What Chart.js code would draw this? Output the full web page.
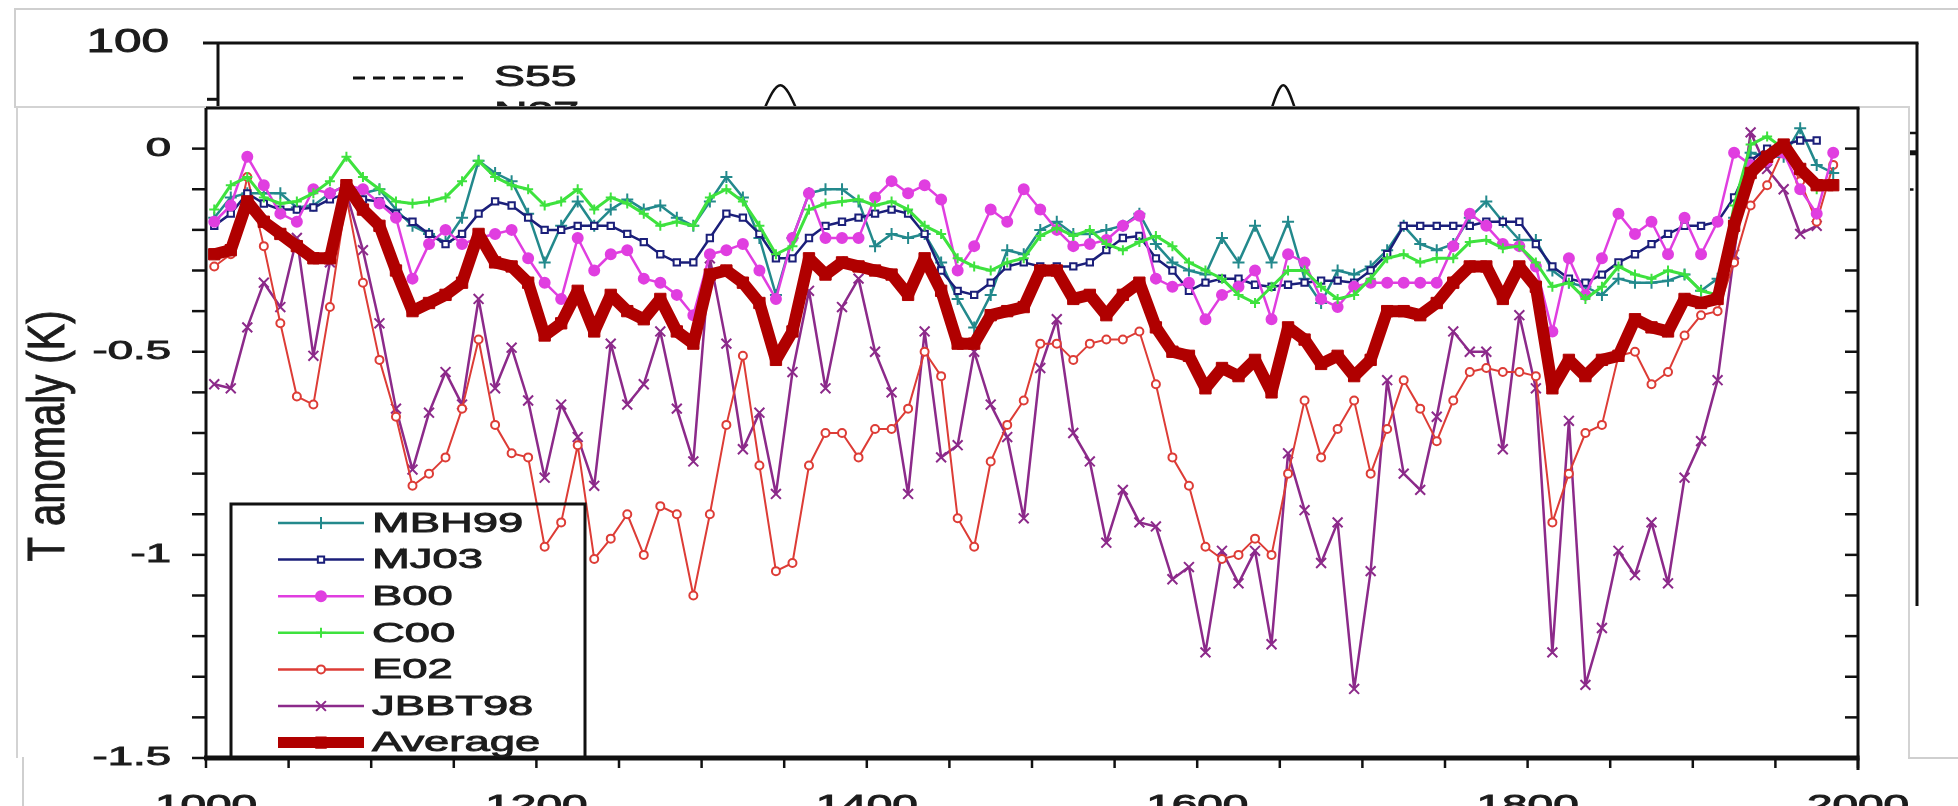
<!DOCTYPE html>
<html>
<head>
<meta charset="utf-8">
<script src="https://cdn.jsdelivr.net/npm/chart.js@4.4.0/dist/chart.umd.min.js"></script>
<style>
  html, body { margin: 0; padding: 0; background: #fff; overflow: hidden; }
  #stage { position: relative; width: 1958px; height: 806px; overflow: hidden; background: #fff; }
  canvas { position: absolute; left: 0; top: 0; }
  .rule { position: absolute; background: #cfcfcf; }
  #card { position: absolute; left: 16px; top: 106px; width: 1894px; height: 652px; background: #fff;
          border: 2px solid #d3d3d3; border-bottom: none; box-sizing: border-box; }
</style>
</head>
<body>
<div id="stage">
  <div class="rule" style="left:14px;top:8px;width:1944px;height:2px"></div>
  <div class="rule" style="left:14px;top:8px;width:2px;height:100px"></div>
  <canvas id="back" width="1958" height="806"></canvas>
  <div id="card"></div>
  <div class="rule" style="left:22px;top:757px;width:2px;height:49px"></div>
  <div class="rule" style="left:1908px;top:757px;width:50px;height:2px"></div>
  <canvas id="front" width="1958" height="806"></canvas>
</div>
<script>
// decade mid-points 1005 ... 1985
const years = Array.from({ length: 99 }, (_, i) => 1005 + 10 * i);

const mbh99 = [
  -0.17, -0.12, -0.11, -0.11, -0.11, -0.145, -0.14, -0.11, -0.09, -0.11, -0.10, -0.15, -0.19, -0.21, -0.23, -0.17, -0.03, -0.06, -0.08, -0.16, -0.28, -0.19, -0.13, -0.19, -0.15,
  -0.125, -0.15, -0.14, -0.17, -0.19, -0.13, -0.07, -0.12, -0.22, -0.36, -0.22, -0.11, -0.10, -0.10, -0.13, -0.24, -0.21, -0.22, -0.21, -0.28, -0.37, -0.44, -0.36, -0.25, -0.26,
  -0.20, -0.18, -0.21, -0.21, -0.20, -0.19, -0.16, -0.235, -0.28, -0.30, -0.31, -0.22, -0.28, -0.19, -0.28, -0.18, -0.32, -0.38, -0.30, -0.31, -0.29, -0.25, -0.19, -0.235, -0.25,
  -0.235, -0.17, -0.13, -0.18, -0.225, -0.225, -0.30, -0.33, -0.34, -0.36, -0.32, -0.33, -0.33, -0.325, -0.31, -0.35, -0.32, -0.17, -0.01, -0.02, -0.02, 0.05, -0.04, -0.06
];
const mj03 = [
  -0.19, -0.16, -0.11, -0.135, -0.15, -0.15, -0.145, -0.125, -0.11, -0.125, -0.13, -0.16, -0.18, -0.21, -0.235, -0.21, -0.16, -0.13, -0.14, -0.17, -0.20, -0.20, -0.19, -0.19, -0.19,
  -0.21, -0.23, -0.26, -0.28, -0.28, -0.22, -0.16, -0.17, -0.21, -0.27, -0.27, -0.22, -0.19, -0.18, -0.17, -0.16, -0.15, -0.16, -0.21, -0.30, -0.35, -0.36, -0.33, -0.29, -0.28,
  -0.29, -0.29, -0.29, -0.28, -0.25, -0.22, -0.215, -0.27, -0.30, -0.35, -0.33, -0.32, -0.32, -0.335, -0.34, -0.335, -0.33, -0.325, -0.325, -0.33, -0.30, -0.26, -0.19, -0.19, -0.19,
  -0.19, -0.19, -0.18, -0.18, -0.18, -0.235, -0.29, -0.32, -0.33, -0.31, -0.28, -0.26, -0.235, -0.21, -0.19, -0.19, -0.18, -0.12, -0.03, 0.00, 0.01, 0.02, 0.02, null
];
const b00 = [
  -0.18, -0.14, -0.02, -0.09, -0.16, -0.18, -0.10, -0.11, -0.09, -0.10, -0.135, -0.17, -0.32, -0.235, -0.20, -0.235, -0.22, -0.21, -0.20, -0.27, -0.33, -0.37, -0.22, -0.30, -0.26,
  -0.25, -0.32, -0.33, -0.36, -0.41, -0.26, -0.25, -0.235, -0.30, -0.37, -0.22, -0.11, -0.22, -0.22, -0.22, -0.12, -0.08, -0.11, -0.09, -0.125, -0.30, -0.24, -0.15, -0.18, -0.10,
  -0.15, -0.20, -0.24, -0.235, -0.225, -0.19, -0.165, -0.32, -0.34, -0.33, -0.42, -0.36, -0.34, -0.30, -0.42, -0.26, -0.28, -0.37, -0.39, -0.34, -0.33, -0.33, -0.33, -0.33, -0.33,
  -0.24, -0.16, -0.19, -0.235, -0.24, -0.29, -0.45, -0.27, -0.36, -0.27, -0.16, -0.21, -0.18, -0.26, -0.17, -0.26, -0.18, -0.01, -0.04, -0.03, -0.01, -0.10, -0.16, -0.01
];
const c00 = [
  -0.15, -0.09, -0.07, -0.12, -0.135, -0.13, -0.11, -0.08, -0.02, -0.07, -0.10, -0.13, -0.135, -0.13, -0.12, -0.08, -0.03, -0.07, -0.09, -0.10, -0.14, -0.13, -0.10, -0.15, -0.12,
  -0.135, -0.16, -0.19, -0.18, -0.19, -0.12, -0.10, -0.13, -0.19, -0.26, -0.24, -0.15, -0.135, -0.13, -0.125, -0.14, -0.13, -0.15, -0.19, -0.21, -0.27, -0.29, -0.30, -0.28, -0.27,
  -0.215, -0.195, -0.215, -0.20, -0.235, -0.25, -0.23, -0.215, -0.24, -0.28, -0.30, -0.32, -0.36, -0.38, -0.34, -0.30, -0.30, -0.34, -0.37, -0.36, -0.32, -0.27, -0.26, -0.28, -0.27,
  -0.27, -0.23, -0.225, -0.245, -0.24, -0.28, -0.34, -0.33, -0.37, -0.34, -0.29, -0.31, -0.32, -0.30, -0.31, -0.35, -0.36, -0.14, 0.01, 0.03, 0.00, -0.04, -0.10, null
];
const e02 = [
  -0.29, -0.26, -0.07, -0.24, -0.43, -0.61, -0.63, -0.39, -0.12, -0.33, -0.52, -0.66, -0.83, -0.80, -0.76, -0.64, -0.47, -0.68, -0.75, -0.76, -0.98, -0.92, -0.73, -1.01, -0.96,
  -0.90, -1.00, -0.88, -0.90, -1.10, -0.90, -0.68, -0.51, -0.78, -1.04, -1.02, -0.78, -0.70, -0.70, -0.76, -0.69, -0.69, -0.64, -0.50, -0.56, -0.91, -0.98, -0.77, -0.68, -0.62,
  -0.48, -0.48, -0.52, -0.48, -0.47, -0.47, -0.45, -0.58, -0.76, -0.83, -0.98, -1.01, -1.00, -0.96, -1.00, -0.80, -0.62, -0.76, -0.69, -0.62, -0.80, -0.69, -0.57, -0.64, -0.72,
  -0.62, -0.55, -0.54, -0.55, -0.55, -0.56, -0.92, -0.80, -0.70, -0.68, -0.51, -0.50, -0.58, -0.55, -0.46, -0.41, -0.40, -0.28, -0.14, -0.09, 0.00, -0.08, -0.18, -0.04
];
const jbbt98 = [
  -0.58, -0.59, -0.44, -0.33, -0.39, -0.22, -0.51, -0.28, -0.11, -0.25, -0.43, -0.64, -0.79, -0.65, -0.55, -0.63, -0.37, -0.59, -0.49, -0.62, -0.81, -0.63, -0.71, -0.83, -0.48,
  -0.63, -0.58, -0.45, -0.64, -0.77, -0.27, -0.48, -0.74, -0.65, -0.85, -0.55, -0.35, -0.59, -0.39, -0.32, -0.50, -0.60, -0.85, -0.45, -0.76, -0.73, -0.50, -0.63, -0.71, -0.91,
  -0.54, -0.42, -0.70, -0.77, -0.97, -0.84, -0.92, -0.93, -1.06, -1.03, -1.24, -0.99, -1.07, -0.99, -1.22, -0.75, -0.89, -1.02, -0.92, -1.33, -1.04, -0.57, -0.80, -0.84, -0.66,
  -0.45, -0.50, -0.50, -0.74, -0.41, -0.59, -1.24, -0.67, -1.32, -1.18, -0.99, -1.05, -0.92, -1.07, -0.81, -0.72, -0.57, -0.26, 0.04, -0.05, -0.10, -0.21, -0.19, null
];
const average = [
  -0.26, -0.25, -0.13, -0.18, -0.21, -0.24, -0.27, -0.27, -0.09, -0.15, -0.19, -0.30, -0.40, -0.38, -0.36, -0.33, -0.21, -0.28, -0.29, -0.33, -0.46, -0.43, -0.35, -0.45, -0.36,
  -0.40, -0.42, -0.37, -0.45, -0.48, -0.31, -0.30, -0.33, -0.38, -0.52, -0.45, -0.27, -0.31, -0.28, -0.29, -0.30, -0.31, -0.36, -0.27, -0.35, -0.48, -0.48, -0.41, -0.40, -0.39,
  -0.30, -0.30, -0.37, -0.36, -0.41, -0.36, -0.33, -0.44, -0.50, -0.51, -0.59, -0.54, -0.56, -0.52, -0.60, -0.44, -0.47, -0.53, -0.51, -0.56, -0.52, -0.40, -0.40, -0.41, -0.38,
  -0.33, -0.29, -0.29, -0.37, -0.29, -0.34, -0.59, -0.52, -0.56, -0.52, -0.51, -0.42, -0.44, -0.45, -0.37, -0.38, -0.37, -0.19, -0.06, -0.02, 0.01, -0.05, -0.09, -0.09
];

const yTickValues = [0, -0.1, -0.2, -0.3, -0.4, -0.5, -0.6, -0.7, -0.8, -0.9, -1.0, -1.1, -1.2, -1.3, -1.4, -1.5];
const yLabelValues = [0, -0.5, -1, -1.5];
const yLabels = ['0', '-0.5', '-1', '-1.5'];
const xTickValues = [1000, 1050, 1100, 1150, 1200, 1250, 1300, 1350, 1400, 1450, 1500,
                     1550, 1600, 1650, 1700, 1750, 1800, 1850, 1900, 1950, 2000];
const xLabelValues = [1000, 1200, 1400, 1600, 1800, 2000];
const xLabels = ['1000', '1200', '1400', '1600', '1800', '2000'];

// the older figure underneath, mostly hidden by the front panel
const backX = [0, 31.2, 33.1, 35.0, 61.3, 62.7, 64.1, 100];
const backN87 = [84, 84, 92.5, 84, 84, 92.5, 84, 84];
const backS55 = [74, 74, 76, 74, 74, 77, 74, 74];
const backTickValues = [100, 90];
const backLabels = ['100'];

const FONT = '"Liberation Sans", Arial, sans-serif';
const INK = '#1c1c1c';

function seg(ctx, x1, y1, x2, y2) {
  ctx.beginPath(); ctx.moveTo(x1, y1); ctx.lineTo(x2, y2); ctx.stroke();
}

// text in the source figure is stretched sideways and a bit heavy
function wideText(ctx, text, x, y, sx, align, size) {
  ctx.save();
  ctx.translate(x, y);
  ctx.scale(sx, 1);
  ctx.font = size + 'px ' + FONT;
  ctx.fillStyle = INK;
  ctx.strokeStyle = INK;
  ctx.lineWidth = 0.9;
  ctx.textAlign = align;
  ctx.textBaseline = 'middle';
  ctx.fillText(text, 0, 0);
  ctx.strokeText(text, 0, 0);
  ctx.restore();
}

function marker(ctx, ds, x, y) {
  const r = ds.pointRadius;
  ctx.save();
  ctx.strokeStyle = ds.pointBorderColor;
  ctx.fillStyle = ds.pointBackgroundColor;
  ctx.lineWidth = ds.pointBorderWidth;
  ctx.beginPath();
  if (ds.pointStyle === 'cross') {
    ctx.moveTo(x - r, y); ctx.lineTo(x + r, y); ctx.moveTo(x, y - r); ctx.lineTo(x, y + r);
    ctx.stroke();
  } else if (ds.pointStyle === 'crossRot') {
    const d = r * 0.7;
    ctx.moveTo(x - d, y - d); ctx.lineTo(x + d, y + d); ctx.moveTo(x - d, y + d); ctx.lineTo(x + d, y - d);
    ctx.stroke();
  } else if (ds.pointStyle === 'rect') {
    const d = r * 0.7;
    ctx.rect(x - d, y - d, 2 * d, 2 * d); ctx.fill(); ctx.stroke();
  } else {
    ctx.arc(x, y, r, 0, Math.PI * 2); ctx.fill(); ctx.stroke();
  }
  ctx.restore();
}

function series(label, values, color, style, radius, width, fill, order) {
  return {
    label,
    data: years.map((yr, i) => ({ x: yr, y: values[i] })),
    borderColor: color,
    borderWidth: width,
    pointStyle: style,
    pointRadius: radius,
    pointBorderColor: color,
    pointBackgroundColor: fill,
    pointBorderWidth: label === 'Average' ? 1 : 2,
    borderJoinStyle: 'bevel',
    tension: 0,
    order
  };
}

const frontFrame = {
  id: 'frontFrame',
  afterDraw(chart) {
    const { ctx, chartArea: a, scales: { x, y } } = chart;
    ctx.save();
    ctx.strokeStyle = '#111';
    ctx.lineWidth = 2.5;
    yTickValues.forEach(v => {
      const py = y.getPixelForValue(v);
      seg(ctx, a.left - 14, py, a.left, py);
      seg(ctx, a.right - 13, py, a.right, py);
    });
    xTickValues.forEach(v => {
      const px = x.getPixelForValue(v);
      seg(ctx, px, a.bottom, px, a.bottom + 10);
    });
    ctx.lineWidth = 3;
    seg(ctx, a.left, a.top, a.right + 1.5, a.top);
    seg(ctx, a.left, a.top, a.left, a.bottom);
    seg(ctx, a.right, a.top, a.right, a.bottom + 12);
    ctx.lineWidth = 5;
    seg(ctx, a.left - 2, a.bottom, a.right + 1.5, a.bottom);

    yLabelValues.forEach((v, i) => wideText(ctx, yLabels[i], 171, y.getPixelForValue(v), 1.75, 'right', 26));
    xLabelValues.forEach((v, i) => wideText(ctx, xLabels[i], x.getPixelForValue(v), 807, 1.7, 'center', 27));

    // axis title
    ctx.save();
    ctx.translate(50, 436);
    ctx.rotate(-Math.PI / 2);
    ctx.scale(1, 1.3);
    ctx.font = '40px ' + FONT;
    ctx.fillStyle = INK;
    ctx.strokeStyle = INK;
    ctx.lineWidth = 0.8;
    ctx.textAlign = 'center';
    ctx.textBaseline = 'middle';
    ctx.fillText('T anomaly (K)', 0, 0);
    ctx.strokeText('T anomaly (K)', 0, 0);
    ctx.restore();

    // legend box (no fill, lines show through)
    ctx.lineWidth = 3;
    ctx.strokeStyle = '#111';
    ctx.strokeRect(231, 504, 354, 254);
    chart.data.datasets.forEach((ds, i) => {
      const ly = 523 + 36.6 * i;
      ctx.strokeStyle = ds.borderColor;
      ctx.lineWidth = ds.label === 'Average' ? 11 : 2.5;
      seg(ctx, 278, ly, 364, ly);
      marker(ctx, ds, 321, ly);
      wideText(ctx, ds.label, 372, ly + 1, 1.62, 'left', 28);
    });
    ctx.restore();
  }
};

const backFrame = {
  id: 'backFrame',
  afterDraw(chart) {
    const { ctx, chartArea: a, scales: { y } } = chart;
    ctx.save();
    ctx.strokeStyle = '#111';
    ctx.lineWidth = 3;
    seg(ctx, a.left, a.top, a.right + 1.5, a.top);
    seg(ctx, a.left, a.top, a.left, a.bottom);
    seg(ctx, a.right, a.top, a.right, a.bottom);
    backTickValues.forEach((v, i) => {
      const py = y.getPixelForValue(v);
      seg(ctx, a.left - (i === 0 ? 15 : 11), py, a.left, py);
    });
    ctx.lineWidth = 5;
    seg(ctx, a.right - 9, y.getPixelForValue(80.5), a.right, y.getPixelForValue(80.5));
    backLabels.forEach((t, i) => wideText(ctx, t, 169, y.getPixelForValue(backTickValues[i]), 1.5, 'right', 33));
    // legend
    ctx.lineWidth = 3;
    ctx.setLineDash([12, 8]);
    seg(ctx, 353, 78, 463, 78);
    ctx.setLineDash([]);
    seg(ctx, 353, 114, 463, 114);
    wideText(ctx, 'S55', 494, 78, 1.6, 'left', 29);
    wideText(ctx, 'N87', 494, 114, 1.6, 'left', 29);
    ctx.restore();
  }
};

new Chart(document.getElementById('back'), {
  type: 'line',
  data: {
    datasets: [
      { label: 'S55', data: backX.map((v, i) => ({ x: v, y: backS55[i] })), borderColor: '#111',
        borderWidth: 2.5, borderDash: [12, 8], pointRadius: 0, cubicInterpolationMode: 'monotone' },
      { label: 'N87', data: backX.map((v, i) => ({ x: v, y: backN87[i] })), borderColor: '#111',
        borderWidth: 2.5, pointRadius: 0, cubicInterpolationMode: 'monotone' }
    ]
  },
  options: {
    responsive: false,
    animation: false,
    events: [],
    layout: { padding: { left: 218, top: 43, right: 41, bottom: 200 } },
    plugins: { legend: { display: false }, tooltip: { enabled: false } },
    scales: {
      x: { type: 'linear', display: false, min: 0, max: 100 },
      y: { type: 'linear', display: false, min: 0, max: 100 }
    }
  },
  plugins: [backFrame]
});

new Chart(document.getElementById('front'), {
  type: 'line',
  data: {
    datasets: [
      series('MBH99', mbh99, '#23898c', 'cross', 6, 2.5, '#23898c', 4),
      series('MJ03', mj03, '#1b1f7a', 'rect', 4.5, 2.5, '#ffffff', 3),
      series('B00', b00, '#e03ee0', 'circle', 5, 2.5, '#e03ee0', 2),
      series('C00', c00, '#3ee23e', 'cross', 5, 3, '#3ee23e', 1),
      series('E02', e02, '#dd3c36', 'circle', 4, 2, '#ffffff', 5),
      series('JBBT98', jbbt98, '#8c2a8a', 'crossRot', 7, 2.5, '#8c2a8a', 6),
      series('Average', average, '#b00000', 'rect', 8, 12, '#b00000', 0)
    ]
  },
  options: {
    responsive: false,
    animation: false,
    events: [],
    layout: { padding: { left: 206, top: 108, right: 100, bottom: 48 } },
    plugins: { legend: { display: false }, tooltip: { enabled: false } },
    scales: {
      x: { type: 'linear', display: false, min: 1000, max: 2000 },
      y: { type: 'linear', display: false, min: -1.5, max: 0.1 }
    }
  },
  plugins: [frontFrame]
});
</script>
</body>
</html>
